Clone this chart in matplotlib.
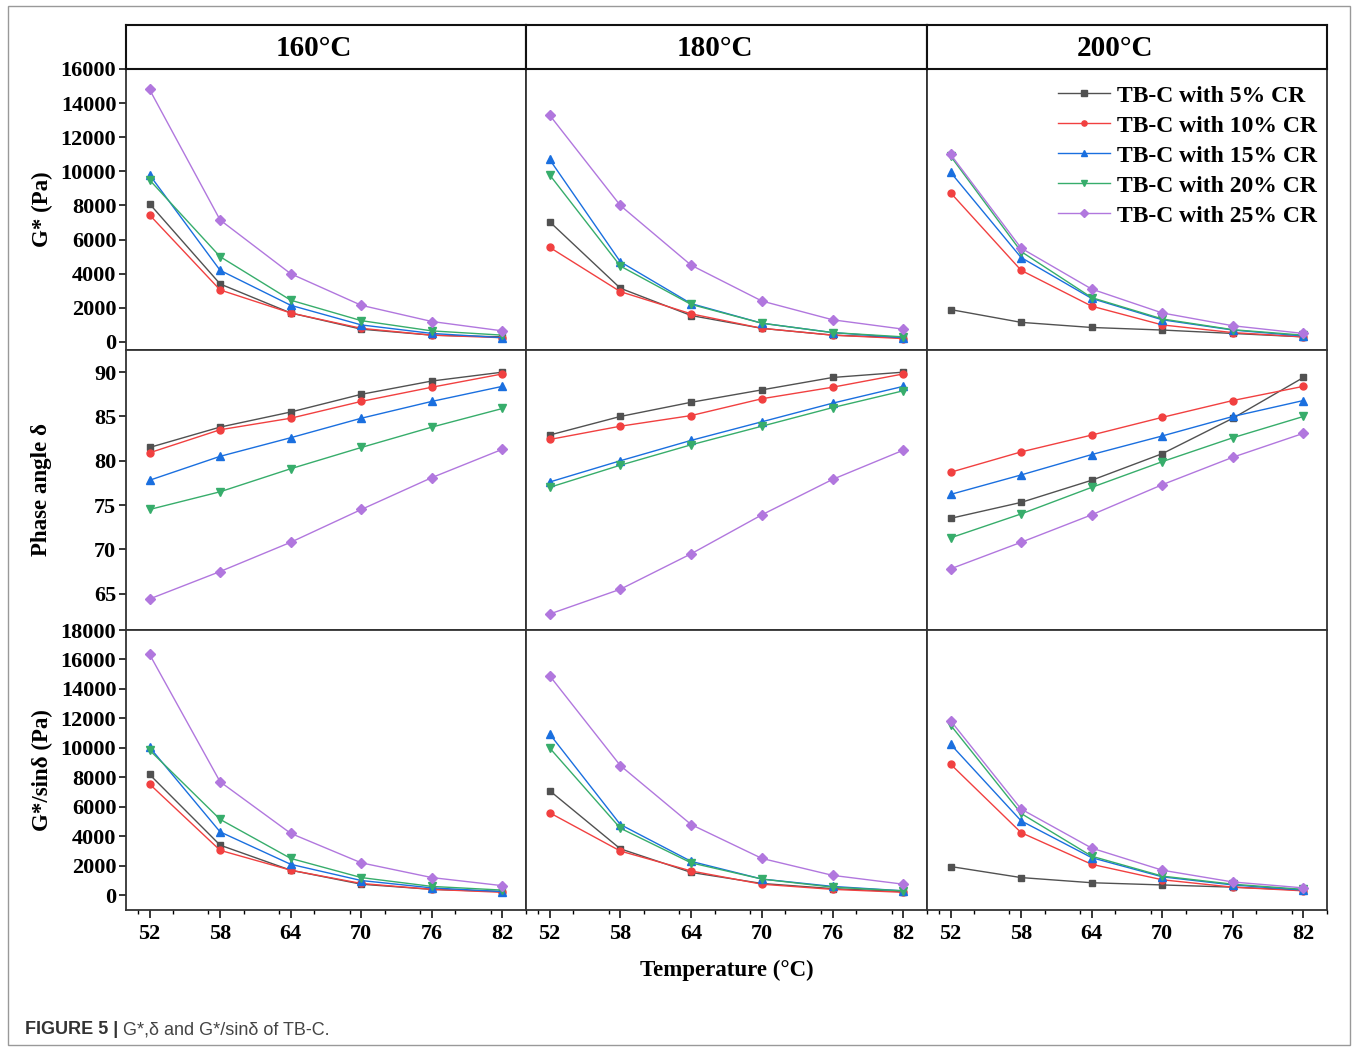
import matplotlib
matplotlib.use("Agg")
import matplotlib.pyplot as plt
from matplotlib.patches import Rectangle
from matplotlib.ticker import MultipleLocator

plt.rcParams["font.family"] = ["Liberation Serif", "DejaVu Serif"]
plt.rcParams["font.weight"] = "bold"

# ---- data ----
temps = [52, 58, 64, 70, 76, 82]
series_labels = ["TB-C with 5% CR", "TB-C with 10% CR", "TB-C with 15% CR",
                 "TB-C with 20% CR", "TB-C with 25% CR"]
aging_labels = ["160°C", "180°C", "200°C"]

# G* (Pa), one list per CR content
gstar_160 = [
    [8100, 3400, 1700, 750, 400, 300],
    [7450, 3050, 1700, 800, 400, 250],
    [9800, 4200, 2150, 1000, 500, 250],
    [9500, 5000, 2450, 1250, 650, 400],
    [14800, 7150, 4000, 2150, 1200, 650],
]
gstar_180 = [
    [7050, 3150, 1550, 800, 400, 250],
    [5550, 2950, 1650, 800, 400, 200],
    [10700, 4700, 2250, 1100, 550, 250],
    [9800, 4450, 2200, 1100, 550, 300],
    [13300, 8000, 4500, 2400, 1300, 750],
]
gstar_200 = [
    [1900, 1150, 850, 700, 500, 300],
    [8750, 4200, 2100, 1000, 550, 300],
    [9950, 4950, 2550, 1300, 700, 350],
    [10900, 5300, 2600, 1350, 720, 400],
    [11000, 5500, 3100, 1700, 950, 500],
]

# phase angle (deg)
delta_160 = [
    [81.5, 83.8, 85.5, 87.5, 89.0, 90.0],
    [80.9, 83.5, 84.8, 86.7, 88.3, 89.8],
    [77.8, 80.5, 82.6, 84.8, 86.7, 88.4],
    [74.5, 76.5, 79.1, 81.5, 83.8, 85.9],
    [64.4, 67.5, 70.8, 74.5, 78.1, 81.3],
]
delta_180 = [
    [82.9, 85.0, 86.6, 88.0, 89.4, 90.0],
    [82.4, 83.9, 85.1, 87.0, 88.3, 89.8],
    [77.6, 80.0, 82.3, 84.4, 86.5, 88.4],
    [77.0, 79.5, 81.8, 83.9, 86.0, 87.9],
    [62.7, 65.5, 69.5, 73.9, 77.9, 81.2],
]
delta_200 = [
    [73.5, 75.3, 77.8, 80.8, 84.8, 89.4],
    [78.7, 81.0, 82.9, 84.9, 86.8, 88.4],
    [76.2, 78.4, 80.7, 82.8, 85.0, 86.8],
    [71.3, 74.0, 77.0, 79.9, 82.6, 85.0],
    [67.8, 70.8, 73.9, 77.3, 80.4, 83.1],
]

# G*/sin(delta) (Pa)
gsin_160 = [
    [8200, 3400, 1700, 750, 400, 250],
    [7550, 3050, 1700, 800, 400, 200],
    [10050, 4300, 2100, 1000, 500, 250],
    [9850, 5150, 2500, 1200, 600, 350],
    [16350, 7700, 4200, 2200, 1200, 650],
]
gsin_180 = [
    [7100, 3150, 1550, 800, 450, 250],
    [5600, 3000, 1650, 750, 400, 200],
    [10950, 4800, 2300, 1100, 600, 300],
    [10000, 4550, 2200, 1100, 550, 300],
    [14900, 8800, 4800, 2500, 1350, 750],
]
gsin_200 = [
    [1950, 1200, 850, 700, 550, 350],
    [8900, 4250, 2100, 1050, 550, 300],
    [10250, 5050, 2550, 1250, 700, 350],
    [11550, 5550, 2650, 1300, 750, 400],
    [11850, 5850, 3200, 1700, 900, 500],
]

panels = [
    [gstar_160, gstar_180, gstar_200],
    [delta_160, delta_180, delta_200],
    [gsin_160, gsin_180, gsin_200],
]
row_labels = ["G* (Pa)", "Phase angle δ", "G*/sinδ (Pa)"]

colors = ["#515151", "#F14040", "#1A6FDF", "#37AD6B", "#B177DE"]
markers = ["s", "o", "^", "v", "D"]
msizes = [5, 5, 6, 6, 5]

W, H = 1357, 1051


def fx(px):
    return px / W


def fy(py):
    return 1 - py / H


fig = plt.figure(figsize=(W / 100, H / 100), dpi=100)

col_edges = [126, 526, 927, 1327]
row_edges = [69, 350, 630, 910]
title_top = 25

ylims = [(-470, 16000), (60.9, 92.5), (-1000, 18000)]
yticks = [range(0, 16001, 2000), range(65, 91, 5), range(0, 18001, 2000)]

spine_col = "#333333"

axes = {}
for r in range(3):
    for c in range(3):
        x0, x1 = col_edges[c], col_edges[c + 1]
        y0, y1 = row_edges[r], row_edges[r + 1]
        ax = fig.add_axes([fx(x0), fy(y1), (x1 - x0) / W, (y1 - y0) / H])
        axes[(r, c)] = ax
        for i, vals in enumerate(panels[r][c]):
            ax.plot(temps, vals, color=colors[i], marker=markers[i],
                    ms=msizes[i], lw=1.0, label=series_labels[i])
        ax.set_xlim(50, 84)
        ax.set_ylim(*ylims[r])
        ax.set_yticks(list(yticks[r]))
        ax.set_xticks(temps)
        ax.xaxis.set_minor_locator(MultipleLocator(3))
        for sp in ax.spines.values():
            sp.set_color(spine_col)
            sp.set_linewidth(1.3)

        if c == 0:
            ax.tick_params(axis="y", direction="out", length=5, width=1.1,
                           labelsize=16, pad=2)
        else:
            ax.tick_params(axis="y", left=False, labelleft=False)

        if r == 2:
            ax.tick_params(axis="x", which="major", direction="out", length=6,
                           width=1.1, labelsize=16, pad=4)
            ax.tick_params(axis="x", which="minor", direction="out", length=3,
                           width=1.0)
        elif r == 0 and c == 1:
            ax.tick_params(axis="x", which="major", direction="out", length=6,
                           width=1.1, labelbottom=False)
            ax.tick_params(axis="x", which="minor", direction="out", length=3,
                           width=1.0)
        else:
            ax.tick_params(axis="x", which="both", bottom=False,
                           labelbottom=False)

    fig.text(fx(42), fy((row_edges[r] + row_edges[r + 1]) / 2), row_labels[r],
             rotation=90, ha="center", va="center", fontsize=16.5,
             fontweight="bold")

# title strips
for c in range(3):
    x0, x1 = col_edges[c], col_edges[c + 1]
    tax = fig.add_axes([fx(x0), fy(row_edges[0]), (x1 - x0) / W,
                        (row_edges[0] - title_top) / H])
    tax.set_xticks([])
    tax.set_yticks([])
    for sp in tax.spines.values():
        sp.set_color("#111111")
        sp.set_linewidth(1.5)
    tax.text(0.47, 0.47, aging_labels[c], transform=tax.transAxes,
             ha="center", va="center", fontsize=21, fontweight="bold")

# legend in the top right panel
axes[(0, 2)].legend(loc="upper left", bbox_to_anchor=(fx(1058), fy(85)),
                    bbox_transform=fig.transFigure, frameon=False,
                    fontsize=17, handlelength=2.2, handletextpad=0.3,
                    labelspacing=0.36, borderpad=0, borderaxespad=0,
                    markerscale=0.75)

fig.text(fx(727), fy(970), "Temperature (°C)", ha="center", va="center",
         fontsize=16.5, fontweight="bold")

# outer frame
fig.add_artist(Rectangle((fx(8), fy(1045)), (1350 - 8) / W, (1045 - 6) / H,
                         transform=fig.transFigure, fill=False,
                         edgecolor="#999999", lw=1.0))

# caption
cap1 = fig.text(fx(25), fy(1030), "FIGURE 5 | ", ha="left", va="center",
                fontsize=13, fontweight="bold", family="Liberation Sans",
                color="#333333")
fig.canvas.draw()
bb = cap1.get_window_extent(renderer=fig.canvas.get_renderer())
fig.text(bb.x1 / W, fy(1030), "G*,δ and G*/sinδ of TB-C.", ha="left",
         va="center", fontsize=13, fontweight="normal",
         family="Liberation Sans", color="#444444")

fig.savefig("out.png", dpi=100)
